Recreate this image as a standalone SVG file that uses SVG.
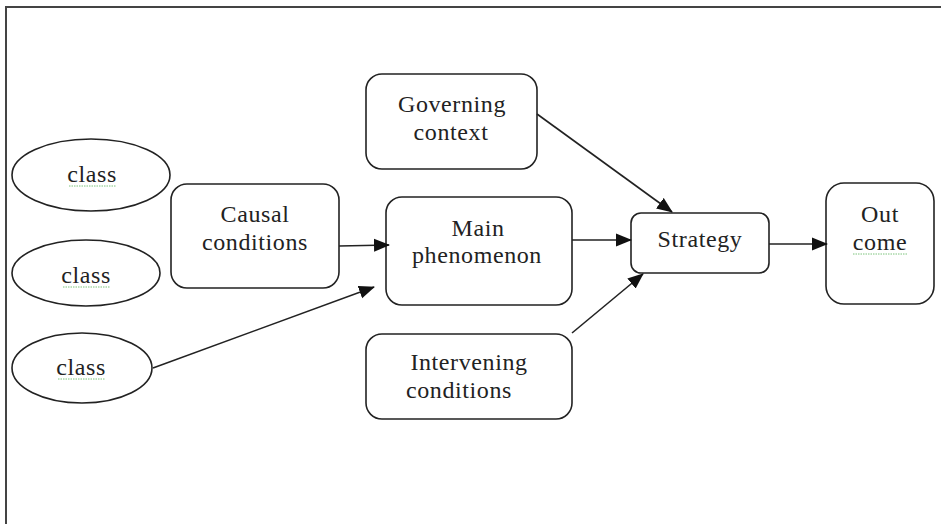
<svg xmlns="http://www.w3.org/2000/svg" width="941" height="524" viewBox="0 0 941 524">
<defs>
<style>
.frame{fill:none;stroke:#444;stroke-width:2}
.box{fill:#fff;stroke:#222;stroke-width:1.6}
.lbl{font-family:"Liberation Serif","Times New Roman",serif;font-size:24px;fill:#222;text-anchor:middle;letter-spacing:0.6px}
.edge{fill:none;stroke:#222;stroke-width:1.6}
.sq{fill:none;stroke:#7cc47c;stroke-width:1;stroke-dasharray:1.5 1}
</style>
<marker id="ah" markerUnits="userSpaceOnUse" markerWidth="16" markerHeight="14" refX="15" refY="7" orient="auto">
<path d="M0,0.5 L16,7 L0,13.5 Z" fill="#111"/>
</marker>
</defs>
<rect width="941" height="524" fill="#fff"/>
<path class="frame" d="M6,524 L6,7 L941,7"/>

<g id="class1">
<ellipse class="box" cx="91" cy="175" rx="79" ry="36"/>
<text class="lbl" x="92" y="182">class</text>
<path class="sq" d="M69,186 L116,186"/>
</g>
<g id="class2">
<ellipse class="box" cx="86" cy="273" rx="74" ry="33"/>
<text class="lbl" x="86" y="283">class</text>
<path class="sq" d="M63,287 L110,287"/>
</g>
<g id="class3">
<ellipse class="box" cx="82" cy="368" rx="70" ry="35"/>
<text class="lbl" x="81" y="375">class</text>
<path class="sq" d="M58,379 L105,379"/>
</g>
<g id="causal">
<rect class="box" x="171" y="184" width="168" height="104" rx="16"/>
<text class="lbl" x="255" y="222">Causal</text>
<text class="lbl" x="255" y="250">conditions</text>
</g>
<g id="governing">
<rect class="box" x="366" y="74" width="171" height="95" rx="16"/>
<text class="lbl" x="452" y="112">Governing</text>
<text class="lbl" x="451" y="140">context</text>
</g>
<g id="main">
<rect class="box" x="386" y="197" width="186" height="108" rx="16"/>
<text class="lbl" x="478" y="236">Main</text>
<text class="lbl" x="477" y="263">phenomenon</text>
</g>
<g id="intervening">
<rect class="box" x="366" y="334" width="206" height="85" rx="16"/>
<text class="lbl" x="469" y="370">Intervening</text>
<text class="lbl" x="459" y="398">conditions</text>
</g>
<g id="strategy">
<rect class="box" x="631" y="213" width="138" height="60" rx="10"/>
<text class="lbl" x="700" y="247">Strategy</text>
</g>
<g id="outcome">
<rect class="box" x="826" y="183" width="108" height="121" rx="18"/>
<text class="lbl" x="880" y="222">Out</text>
<text class="lbl" x="880" y="250">come</text>
<path class="sq" d="M853,254 L907,254"/>
</g>

<g id="connectors">
<path class="edge" d="M339,246 L389,245" marker-end="url(#ah)"/>
<path class="edge" d="M153,368 L374,287" marker-end="url(#ah)"/>
<path class="edge" d="M537,114 L672,212" marker-end="url(#ah)"/>
<path class="edge" d="M572,240 L631,240" marker-end="url(#ah)"/>
<path class="edge" d="M572,333 L643,274" marker-end="url(#ah)"/>
<path class="edge" d="M769,244 L827,244" marker-end="url(#ah)"/>
</g>
</svg>
